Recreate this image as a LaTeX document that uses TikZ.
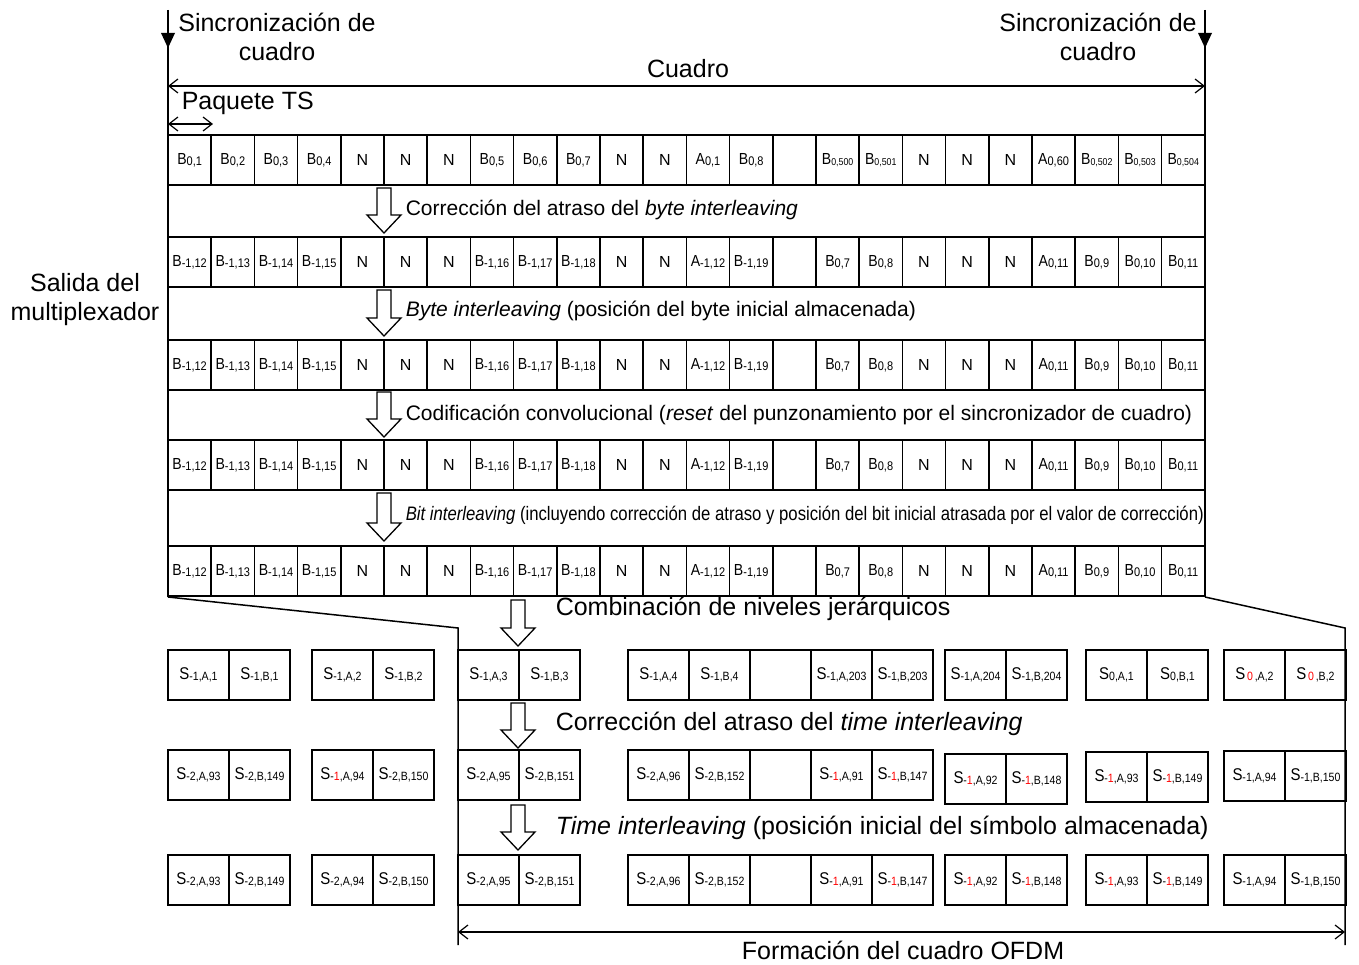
\documentclass[tikz,border=0pt]{standalone}
\usepackage{fontspec}
\usepackage{graphicx}
\setmainfont{Liberation Sans}
\usetikzlibrary{arrows.meta}
\newcommand\cl[2]{\scalebox{0.88}[1]{#1{\fontsize{12.5}{12.5}\selectfont\raisebox{-1pt}{#2}}}}
\newcommand\cs[2]{\scalebox{0.88}[1]{#1{\fontsize{10}{10}\selectfont\raisebox{-1pt}{#2}}}}
\newcommand\gl[2]{\scalebox{0.88}[1]{#1{\fontsize{12}{12}\selectfont\raisebox{-1pt}{#2}}}}
\newcommand\rd[1]{\textcolor{red}{#1}}
\newcommand\cellrow[3]{%
  \foreach \txt [count=\ci] in {#3} {%
    \node[cellbox] (#1c\ci) at ({168+43.2*(\ci-0.5)}, #2) {\txt};
  }}
\newcommand\grp[4]{%
  \foreach \txt [count=\ci] in {#4} {%
    \node[gcellbox] (#1c\ci) at ({#2+61*(\ci-0.5)}, #3) {\txt};
  }}
\newcommand\harrow[3]{%
  \draw[line width=1.3pt, fill=white] (#1-7,#2) -- (#1+7,#2) -- (#1+7,#3-18) -- (#1+17,#3-18) -- (#1,#3) -- (#1-17,#3-18) -- (#1-7,#3-18) -- cycle;}
\tikzset{
  cellbox/.style={draw, line width=1.6pt, minimum width=43.2pt, minimum height=50pt, inner sep=0pt, font=\fontsize{16}{16}\selectfont},
  gcellbox/.style={draw, line width=1.5pt, minimum width=61pt, minimum height=50pt, inner sep=0pt, font=\fontsize{17}{17}\selectfont},
  bigtxt/.style={font=\fontsize{25}{29}\selectfont, inner sep=0pt, align=center},
  bandtxt/.style={font=\fontsize{21}{25}\selectfont, inner sep=0pt, anchor=west},
  dimarrow/.style={line width=1.2pt, {Straight Barb[length=9pt,width=14pt]}-{Straight Barb[length=9pt,width=14pt]}}
}
\begin{document}
\begin{tikzpicture}[x=1pt, y=-1pt, line width=1.5pt]
\useasboundingbox (0,0) rectangle (1359,965);

% top labels
\node[bigtxt] (synL) at (277,37) {Sincronización de\\cuadro};
\node[bigtxt] (synR) at (1098,37) {Sincronización de\\cuadro};
\node[bigtxt] (cuadro) at (688,69) {Cuadro};
\node[bigtxt, anchor=west] (paq) at (181,103) {Paquete TS};
\node[bigtxt] (salida) at (85,300) {Salida del\\multiplexador};

% frame verticals with sync arrows
\coordinate (tl) at (168,10); \coordinate (bl) at (168,597);
\coordinate (tr) at (1205,10); \coordinate (br) at (1205,597);
\draw (tl) -- (bl);
\draw (tr) -- (br);
\fill (161,33) -- (175,33) -- (168,48) -- cycle;
\fill (1198,33) -- (1212,33) -- (1205,48) -- cycle;

% dimension arrows
\coordinate (cqL) at (168,86); \coordinate (cqR) at (1205,86);
\draw[dimarrow] (cqL) -- (cqR);
\coordinate (tsL) at (168,124); \coordinate (tsR) at (213,124);
\draw[dimarrow] (tsL) -- (tsR);

% rows
\cellrow{ra}{160}{{\cl{B}{0,1}},{\cl{B}{0,2}},{\cl{B}{0,3}},{\cl{B}{0,4}},N,N,N,{\cl{B}{0,5}},{\cl{B}{0,6}},{\cl{B}{0,7}},N,N,{\cl{A}{0,1}},{\cl{B}{0,8}},{},{\cs{B}{0,500}},{\cs{B}{0,501}},N,N,N,{\cl{A}{0,60}},{\cs{B}{0,502}},{\cs{B}{0,503}},{\cs{B}{0,504}}}
\foreach \rn/\ry in {rb/262, rc/365, rd/465, re/571} {
\cellrow{\rn}{\ry}{{\cl{B}{-1,12}},{\cl{B}{-1,13}},{\cl{B}{-1,14}},{\cl{B}{-1,15}},N,N,N,{\cl{B}{-1,16}},{\cl{B}{-1,17}},{\cl{B}{-1,18}},N,N,{\cl{A}{-1,12}},{\cl{B}{-1,19}},{},{\cl{B}{0,7}},{\cl{B}{0,8}},N,N,N,{\cl{A}{0,11}},{\cl{B}{0,9}},{\cl{B}{0,10}},{\cl{B}{0,11}}}
}

% band arrows and texts
\harrow{384}{188}{233}
\harrow{384}{290}{336}
\harrow{384}{392}{437}
\harrow{384}{493}{541}
\node[bandtxt] (t1) at (405,210) {Corrección del atraso del \textit{byte interleaving}};
\node[bandtxt] (t2) at (405,311) {\textit{Byte interleaving} (posición del byte inicial almacenada)};
\node[bandtxt] (t3) at (405,415) {Codificación convolucional (\textit{reset} del punzonamiento por el sincronizador de cuadro)};
\node[bandtxt, font=\fontsize{19.5}{23}\selectfont] (t4) at (405,515) {\resizebox{798pt}{\height}{\textit{Bit interleaving} (incluyendo corrección de atraso y posición del bit inicial atrasada por el valor de corrección)}};

% funnel lines
\coordinate (fl1) at (458,628); \coordinate (fl2) at (458,945);
\coordinate (fr1) at (1345,628); \coordinate (fr2) at (1345,945);
\draw (bl) -- (fl1) -- (fl2);
\draw (br) -- (fr1) -- (fr2);

% lower arrows and texts
\harrow{518}{600}{646}
\harrow{518}{703}{748}
\harrow{518}{805}{850}
\node[bigtxt, anchor=west] (t5) at (555,609) {Combinación de niveles jerárquicos};
\node[bigtxt, anchor=west] (t6) at (555,724) {Corrección del atraso del \textit{time interleaving}};
\node[bigtxt, anchor=west] (t7) at (555,828) {\textit{Time interleaving} (posición inicial del símbolo almacenada)};

% group row A
\grp{aa}{168}{675}{{\gl{S}{-1,A,1}},{\gl{S}{-1,B,1}}}
\grp{ab}{312}{675}{{\gl{S}{-1,A,2}},{\gl{S}{-1,B,2}}}
\grp{ac}{458}{675}{{\gl{S}{-1,A,3}},{\gl{S}{-1,B,3}}}
\grp{ad}{628}{675}{{\gl{S}{-1,A,4}},{\gl{S}{-1,B,4}},{},{\gl{S}{-1,A,203}},{\gl{S}{-1,B,203}}}
\grp{ae}{945}{675}{{\gl{S}{-1,A,204}},{\gl{S}{-1,B,204}}}
\grp{af}{1086}{675}{{\gl{S}{0,A,1}},{\gl{S}{0,B,1}}}
\grp{ag}{1224}{675}{{\gl{S}{\,\rd{0}\,,A,2}},{\gl{S}{\,\rd{0}\,,B,2}}}

% group row B
\grp{ba}{168}{775}{{\gl{S}{-2,A,93}},{\gl{S}{-2,B,149}}}
\grp{bb}{312}{775}{{\gl{S}{-\rd{1},A,94}},{\gl{S}{-2,B,150}}}
\grp{bc}{458}{775}{{\gl{S}{-2,A,95}},{\gl{S}{-2,B,151}}}
\grp{bd}{628}{775}{{\gl{S}{-2,A,96}},{\gl{S}{-2,B,152}},{},{\gl{S}{-\rd{1},A,91}},{\gl{S}{-\rd{1},B,147}}}
\grp{be}{945}{779}{{\gl{S}{-\rd{1},A,92}},{\gl{S}{-\rd{1},B,148}}}
\grp{bf}{1086}{777}{{\gl{S}{-\rd{1},A,93}},{\gl{S}{-\rd{1},B,149}}}
\grp{bg}{1224}{776}{{\gl{S}{-1,A,94}},{\gl{S}{-1,B,150}}}

% group row C
\grp{ca}{168}{880}{{\gl{S}{-2,A,93}},{\gl{S}{-2,B,149}}}
\grp{cb}{312}{880}{{\gl{S}{-2,A,94}},{\gl{S}{-2,B,150}}}
\grp{cc}{458}{880}{{\gl{S}{-2,A,95}},{\gl{S}{-2,B,151}}}
\grp{cd}{628}{880}{{\gl{S}{-2,A,96}},{\gl{S}{-2,B,152}},{},{\gl{S}{-\rd{1},A,91}},{\gl{S}{-\rd{1},B,147}}}
\grp{ce}{945}{880}{{\gl{S}{-\rd{1},A,92}},{\gl{S}{-\rd{1},B,148}}}
\grp{cf}{1086}{880}{{\gl{S}{-\rd{1},A,93}},{\gl{S}{-\rd{1},B,149}}}
\grp{cg}{1224}{880}{{\gl{S}{-1,A,94}},{\gl{S}{-1,B,150}}}

% OFDM frame
\coordinate (ofL) at (458,932); \coordinate (ofR) at (1345,932);
\draw[dimarrow] (ofL) -- (ofR);
\node[bigtxt] (ofdm) at (903,950) {Formación del cuadro OFDM};
\end{tikzpicture}
\end{document}
